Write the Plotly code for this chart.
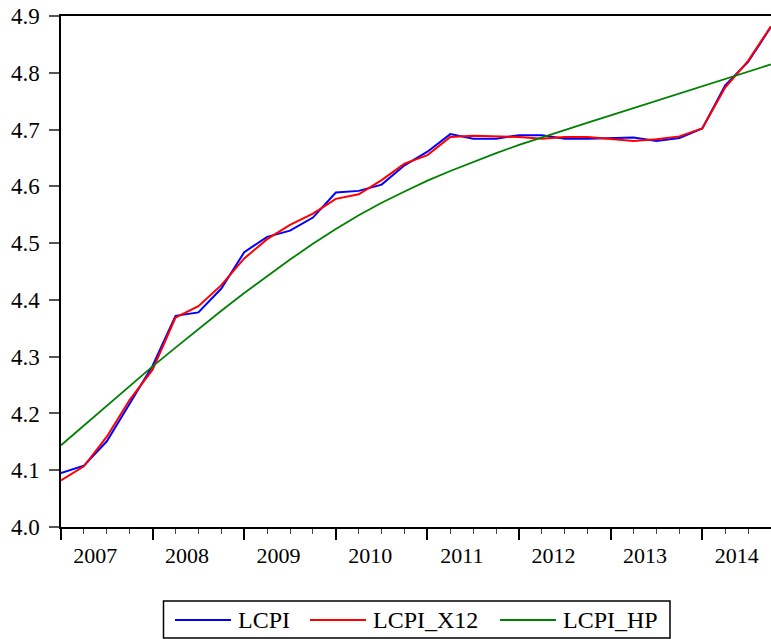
import plotly.graph_objects as go

# Quarterly observations 2007Q1 .. 2014Q4
quarters = [f"{y}Q{q}" for y in range(2007, 2015) for q in range(1, 5)]
years = [str(y) for y in range(2007, 2015)]

lcpi = [4.095, 4.108, 4.151, 4.218, 4.284, 4.372, 4.378, 4.420,
        4.484, 4.511, 4.522, 4.545, 4.589, 4.592, 4.603, 4.637,
        4.661, 4.692, 4.684, 4.684, 4.690, 4.690, 4.684, 4.684,
        4.685, 4.686, 4.680, 4.685, 4.702, 4.778, 4.819, 4.881]

lcpi_x12 = [4.082, 4.107, 4.159, 4.224, 4.277, 4.369, 4.389, 4.426,
            4.473, 4.507, 4.532, 4.552, 4.578, 4.586, 4.611, 4.640,
            4.655, 4.687, 4.689, 4.688, 4.687, 4.684, 4.687, 4.687,
            4.684, 4.680, 4.683, 4.688, 4.702, 4.774, 4.821, 4.882]

lcpi_hp = [4.144, 4.179, 4.214, 4.249, 4.283, 4.316, 4.349, 4.381,
           4.412, 4.442, 4.471, 4.499, 4.525, 4.549, 4.571, 4.591,
           4.610, 4.627, 4.643, 4.6585, 4.673, 4.6865, 4.6995, 4.7123,
           4.7251, 4.7379, 4.7507, 4.7635, 4.7763, 4.7891, 4.8019, 4.8147]

y_ticks = [4.0, 4.1, 4.2, 4.3, 4.4, 4.5, 4.6, 4.7, 4.8, 4.9]

series = [("LCPI", lcpi, "#0000FF", 2.0),
          ("LCPI_X12", lcpi_x12, "#FF0000", 2.0),
          ("LCPI_HP", lcpi_hp, "#008000", 1.8)]

W, H = 771, 639
L, R, T, B = 61, 0, 16, 112
FONT = "Liberation Serif"

idx = list(range(len(quarters)))
year_start = [4 * k for k in range(len(years))]
year_mid = [4 * k + 1.5 for k in range(len(years))]

fig = go.Figure()
for name, vals, color, lw in series:
    fig.add_trace(go.Scatter(x=idx, y=vals, mode="lines", name=name,
                             line=dict(color=color, width=lw),
                             hovertext=quarters, showlegend=False))

# invisible trace that carries the year-label axis
fig.add_trace(go.Scatter(x=[idx[0], idx[-1]], y=[y_ticks[0], y_ticks[0]],
                         xaxis="x2", mode="lines", line=dict(width=0),
                         showlegend=False, hoverinfo="skip"))

xr = [idx[0], idx[-1]]
fig.update_layout(
    width=W, height=H,
    margin=dict(l=L, r=R, t=T, b=B),
    paper_bgcolor="white", plot_bgcolor="white",
    font=dict(family=FONT, color="black"),
    xaxis=dict(range=xr, tickvals=year_start, showticklabels=False,
               ticks="outside", ticklen=11, tickwidth=1.5, tickcolor="black",
               minor=dict(dtick=1, tick0=0, ticks="outside", ticklen=5,
                          tickwidth=1.2, tickcolor="#444"),
               showline=True, linecolor="black", linewidth=1.5, mirror=True,
               showgrid=False, zeroline=False),
    xaxis2=dict(range=xr, overlaying="x", side="bottom", tickvals=year_mid,
                ticktext=years, ticks="", showline=False, showgrid=False,
                zeroline=False, tickfont=dict(family=FONT, size=22),
                ticklabelstandoff=13),
    yaxis=dict(range=[y_ticks[0], y_ticks[-1]], tickvals=y_ticks,
               tickformat=".1f", ticks="outside", ticklen=10, tickwidth=1.5,
               tickcolor="#555", showline=True, linecolor="black",
               linewidth=1.5, showgrid=False, zeroline=False,
               tickfont=dict(family=FONT, size=23), ticklabelstandoff=5),
)

# legend drawn in pixel-derived paper coordinates
pw, ph = W - L - R, H - T - B


def px(x):
    return (x - L) / pw


def py(y):
    return (H - B - y) / ph


fig.add_shape(type="rect", xref="paper", yref="paper",
              x0=px(163.5), x1=px(670), y0=py(601), y1=py(638),
              line=dict(color="black", width=1.5), fillcolor="white")
leg_y = 620
leg_items = [(175, 238), (310, 373), (500, 563)]
for (lx, tx), (name, _, color, _) in zip(leg_items, series):
    fig.add_shape(type="line", xref="paper", yref="paper",
                  x0=px(lx), x1=px(lx + 56), y0=py(leg_y), y1=py(leg_y),
                  line=dict(color=color, width=2))
    fig.add_annotation(xref="paper", yref="paper", x=px(tx - 2), y=py(leg_y),
                       text=name, showarrow=False, xanchor="left",
                       yanchor="middle", font=dict(size=24, family=FONT))

fig.write_html("out.html")
